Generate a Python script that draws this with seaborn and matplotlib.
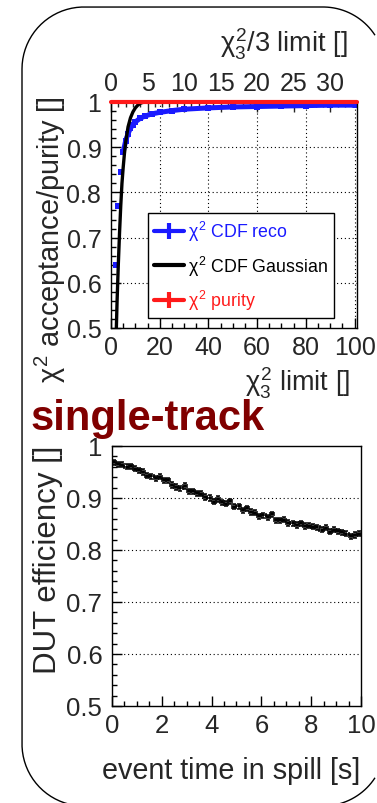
import matplotlib
matplotlib.use("Agg")
import matplotlib.pyplot as plt
from matplotlib.lines import Line2D
from matplotlib.ticker import MultipleLocator
import seaborn as sns
import pandas as pd
import numpy as np

# ---- chi2 acceptance / purity (upper panel) ----
reco_x = [2, 3, 4, 5, 6, 7, 8, 9, 10, 12, 14, 17, 20, 25, 30, 40, 50, 60, 70, 80, 90, 100.5]
reco_y = [0.639, 0.771, 0.845, 0.889, 0.914, 0.930, 0.942, 0.950, 0.956, 0.964, 0.969,
          0.974, 0.977, 0.981, 0.984, 0.987, 0.989, 0.990, 0.991, 0.992, 0.993, 0.993]

gauss_x = [2.2, 2.5, 3, 3.5, 4, 4.5, 5, 5.5, 6, 7, 8, 9, 10, 11, 12, 13, 15, 20, 100]
gauss_y = [0.50, 0.56, 0.64, 0.71, 0.77, 0.82, 0.855, 0.885, 0.91, 0.945, 0.965, 0.978,
           0.987, 0.993, 0.997, 0.999, 1.0, 1.0, 1.0]

purity_x = [0, 25, 50, 75, 101]
purity_y = [1.0, 1.0, 1.0, 1.0, 1.0]

# ---- DUT efficiency vs. event time (lower panel) ----
time_s = [(i + 0.5) / 6 for i in range(60)]
efficiency = [0.969, 0.965, 0.964, 0.960, 0.961, 0.956, 0.953, 0.950, 0.943, 0.942,
              0.938, 0.941, 0.934, 0.934, 0.925, 0.921, 0.919, 0.923, 0.913, 0.913,
              0.909, 0.908, 0.902, 0.900, 0.893, 0.898, 0.892, 0.889, 0.894, 0.883,
              0.884, 0.876, 0.880, 0.873, 0.872, 0.865, 0.867, 0.863, 0.869, 0.857,
              0.857, 0.858, 0.852, 0.851, 0.848, 0.851, 0.846, 0.847, 0.845, 0.844,
              0.839, 0.843, 0.835, 0.839, 0.836, 0.834, 0.831, 0.826, 0.829, 0.831]
eff_err = 0.005

sns.set_theme(style="ticks")
plt.rcParams["font.family"] = ["Liberation Sans", "DejaVu Sans"]
plt.rcParams["mathtext.fontset"] = "custom"
plt.rcParams["mathtext.rm"] = "Liberation Sans"
plt.rcParams["mathtext.it"] = "Liberation Sans"
plt.rcParams["mathtext.bf"] = "Liberation Sans:bold"

W, H = 377, 804
fig = plt.figure(figsize=(W / 100, H / 100), dpi=100)
fig.patch.set_facecolor("white")
fig.patch.set_linewidth(0)

# Rounded slide frame as one open outline in pixel units (y downwards).
# The right edge lies past the canvas, so the outline starts and ends on the
# two right-hand corner arcs just before they leave the canvas.
bg = fig.add_axes([0, 0, 1, 1], zorder=-5)
bg.set_xlim(0, W)
bg.set_ylim(H, 0)
bg.set_autoscale_on(False)
bg.axis("off")
fl, ft, fr, fb, rad = 22, 8, 385, 807, 62


def corner(cx, cy, a0, a1):
    t = np.radians(np.linspace(a0, a1, 40))
    return cx + rad * np.cos(t), cy + rad * np.sin(t)


a_cut = np.degrees(np.arccos((W - 2 - (fr - rad)) / rad))
parts = [corner(fr - rad, ft + rad, -a_cut, -90),      # top-right
         corner(fl + rad, ft + rad, -90, -180),        # top-left
         corner(fl + rad, fb - rad, 180, 90),          # bottom-left
         corner(fr - rad, fb - rad, 90, a_cut)]        # bottom-right
frame_x = np.concatenate([p[0] for p in parts])
frame_y = np.concatenate([p[1] for p in parts])
bg.plot(frame_x, frame_y, color="black", linewidth=1.0, solid_capstyle="butt")


def px_axes(left, top, right, bottom):
    return fig.add_axes([left / W, 1 - bottom / H, (right - left) / W, (bottom - top) / H])


TICK_FS = 18
grid_style = dict(color="black", linestyle=(0, (1, 2.5)), linewidth=0.8)


def style_axes(ax):
    for s in ax.spines.values():
        s.set_linewidth(1.0)
        s.set_color("black")
    ax.tick_params(which="both", direction="in", top=False, right=False,
                   labelsize=TICK_FS, color="black", width=1.0)
    ax.tick_params(which="major", length=7)
    ax.tick_params(which="minor", length=3.5)
    ax.tick_params(axis="y", pad=7)
    ax.tick_params(axis="x", pad=5)


# ---------- upper panel ----------
ax1 = px_axes(111, 103, 357, 329)
ax1.set_facecolor("white")
ax1.set_xlim(0, 101)
ax1.set_ylim(0.5, 1.0)
style_axes(ax1)
ax1.xaxis.set_minor_locator(MultipleLocator(5))
ax1.yaxis.set_minor_locator(MultipleLocator(0.02))
ax1.set_yticks([0.5, 0.6, 0.7, 0.8, 0.9, 1.0])
ax1.set_yticklabels(["0.5", "0.6", "0.7", "0.8", "0.9", "1"])
ax1.set_xticks([0, 20, 40, 60, 80, 100])
ax1.set_xticklabels(["0", "20", "40", "60", "80", "100"])
for v in [20, 40, 60, 80, 100]:
    ax1.axvline(v, zorder=0.5, **grid_style)
for v in [0.6, 0.7, 0.8, 0.9]:
    ax1.axhline(v, zorder=0.5, **grid_style)

reco_df = pd.DataFrame({"x": reco_x, "y": reco_y})
dense = reco_df[reco_df["x"] >= 5]
sns.lineplot(data=dense, x="x", y="y", ax=ax1, color="#1a1aff", linewidth=3.6,
             zorder=2, estimator=None, sort=True)
sns.scatterplot(data=reco_df, x="x", y="y", ax=ax1, color="#1a1aff", marker="s",
                s=16, linewidth=0, zorder=2.1)

gauss_df = pd.DataFrame({"x": gauss_x, "y": gauss_y})
sns.lineplot(data=gauss_df, x="x", y="y", ax=ax1, color="black", linewidth=2.4,
             zorder=3, estimator=None, sort=False)

pur_df = pd.DataFrame({"x": purity_x, "y": purity_y})
sns.lineplot(data=pur_df, x="x", y="y", ax=ax1, color="#ff1a1a", linewidth=3.0,
             zorder=4, estimator=None)
ax1.lines[-1].set_clip_on(False)
ax1.set_xlabel("")
ax1.set_ylabel("")

# secondary axis showing chi2 / ndf
sec = ax1.secondary_xaxis("top", functions=(lambda x: x / 3, lambda x: x * 3))
sec.set_xticks([0, 5, 10, 15, 20, 25, 30])
sec.xaxis.set_minor_locator(MultipleLocator(1))
sec.tick_params(which="both", direction="in", labelsize=TICK_FS, pad=5, width=1.0)
sec.tick_params(which="major", length=7)
sec.tick_params(which="minor", length=3.5)
sec.spines["top"].set_linewidth(1.0)

handles = [
    Line2D([], [], color="#1a1aff", lw=3, marker="|", markersize=12, mew=3),
    Line2D([], [], color="black", lw=3),
    Line2D([], [], color="#ff1a1a", lw=3, marker="|", markersize=12, mew=3),
]
labels = [r"$\chi^{2}$ CDF reco", r"$\chi^{2}$ CDF Gaussian", r"$\chi^{2}$ purity"]
leg = ax1.legend(handles, labels, loc="upper left", bbox_to_anchor=(0.150, 0.509),
                 fontsize=12.8, frameon=True, fancybox=False, edgecolor="black",
                 framealpha=1, borderpad=0.35, labelspacing=0.58, handlelength=1.7,
                 handletextpad=0.2, borderaxespad=0, labelcolor="linecolor")
leg.get_frame().set_linewidth(1.0)

fig.text(348 / W, 1 - 53 / H, r"$\chi^{2}_{3}$/3 limit []", ha="right", va="baseline",
         fontsize=19.5)
fig.text(350 / W, 1 - 392 / H, r"$\chi^{2}_{3}$ limit []", ha="right", va="baseline",
         fontsize=19.5)
fig.text(50 / W, 1 - 96 / H, r"$\chi^{2}$ acceptance/purity []", rotation=90,
         ha="center", va="top", fontsize=20.8)

# ---------- lower panel ----------
fig.text(30 / W, 1 - 430 / H, "single-track", ha="left", va="baseline",
         fontsize=30, fontweight="bold", color="#800000")

ax2 = px_axes(112, 447, 361, 707)
ax2.set_xlim(0, 10)
ax2.set_ylim(0.5, 1.0)
style_axes(ax2)
ax2.tick_params(labelsize=18.5)
ax2.set_xticks([0, 2, 4, 6, 8, 10])
ax2.xaxis.set_minor_locator(MultipleLocator(0.5))
ax2.set_yticks([0.5, 0.6, 0.7, 0.8, 0.9, 1.0])
ax2.set_yticklabels(["0.5", "0.6", "0.7", "0.8", "0.9", "1"])
ax2.yaxis.set_minor_locator(MultipleLocator(0.02))
for v in [0.6, 0.7, 0.8, 0.9]:
    ax2.axhline(v, zorder=0.5, **grid_style)

eff_df = pd.DataFrame({"t": time_s, "eff": efficiency})
sns.scatterplot(data=eff_df, x="t", y="eff", ax=ax2, color="black", marker="s",
                s=4, linewidth=0, zorder=3)
ax2.errorbar(eff_df["t"], eff_df["eff"], xerr=1 / 12, yerr=eff_err, fmt="none",
             ecolor="black", elinewidth=1.1, capsize=1.6, capthick=1.1, zorder=3)
ax2.set_xlabel("")
ax2.set_ylabel("")

fig.text(48 / W, 1 - 446 / H, "DUT efficiency []", rotation=90, ha="center", va="top",
         fontsize=22.5)
fig.text(360 / W, 1 - 779 / H, "event time in spill [s]", ha="right", va="baseline",
         fontsize=20.7)

fig.savefig("out.png", dpi=100, facecolor="white", edgecolor="white")
